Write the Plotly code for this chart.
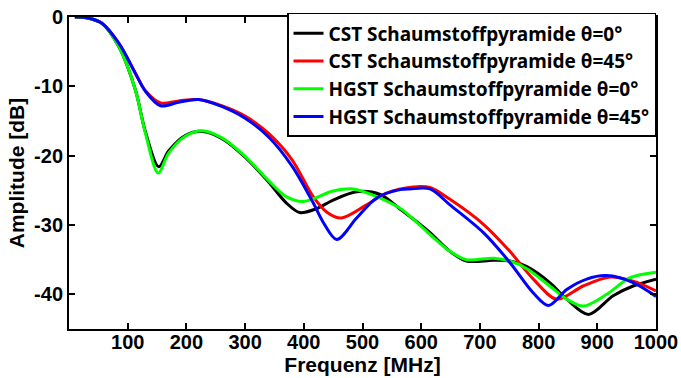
import plotly.graph_objects as go

# --- data ---
f_cst0 = [10, 30, 56, 85, 113, 130, 153, 170, 198, 227, 260, 300, 340, 370, 393, 420, 450, 490, 530, 564, 615, 649, 677, 723, 751, 780, 819, 848, 885, 927, 961, 1000]
db_cst0 = [0, -0.1, -0.9, -4.3, -10.5, -16.5, -21.6, -19.3, -17.1, -16.5, -17.5, -20.2, -23.8, -26.8, -28.2, -27.7, -26.4, -25.2, -25.6, -27.7, -31.1, -33.8, -35.2, -35.1, -35.2, -36.0, -38.3, -40.7, -42.9, -40.2, -38.8, -37.8]

f_cst45 = [10, 30, 56, 85, 113, 130, 156, 187, 221, 260, 300, 340, 380, 416, 440, 464, 507, 541, 586, 615, 649, 706, 751, 791, 831, 876, 922, 961, 1000]
db_cst45 = [0, -0.1, -0.9, -3.8, -8.1, -10.6, -12.4, -12.1, -11.9, -12.8, -14.3, -16.8, -20.6, -25.9, -28.2, -29.0, -27.1, -25.4, -24.5, -24.6, -26.3, -29.9, -33.8, -37.8, -40.7, -38.8, -37.5, -38.1, -39.5]

f_hgst0 = [10, 30, 56, 85, 113, 130, 152, 170, 198, 227, 260, 300, 340, 370, 399, 450, 484, 524, 564, 609, 649, 677, 723, 751, 780, 819, 848, 876, 916, 956, 1000]
db_hgst0 = [0, -0.1, -0.9, -4.3, -10.5, -16.7, -22.5, -19.6, -17.2, -16.4, -17.4, -20.1, -23.6, -25.9, -26.6, -25.1, -24.8, -25.9, -27.6, -30.9, -33.8, -35.0, -34.8, -35.2, -36.3, -38.8, -40.7, -41.7, -40.0, -37.6, -36.8]

f_hgst45 = [10, 30, 56, 85, 113, 130, 156, 187, 221, 260, 300, 340, 380, 416, 433, 456, 490, 524, 564, 581, 615, 649, 706, 751, 791, 817, 848, 882, 916, 961, 1000]
db_hgst45 = [0, -0.1, -0.9, -3.8, -8.1, -10.7, -12.8, -12.3, -11.9, -12.9, -14.6, -17.3, -21.5, -26.8, -29.6, -32.1, -29.0, -26.1, -24.9, -24.8, -24.8, -27.1, -31.1, -35.4, -39.8, -41.6, -39.3, -37.8, -37.3, -38.3, -40.3]

series = [
    ("CST Schaumstoffpyramide θ=0°", f_cst0, db_cst0, "#000000"),
    ("CST Schaumstoffpyramide θ=45°", f_cst45, db_cst45, "#ff0000"),
    ("HGST Schaumstoffpyramide θ=0°", f_hgst0, db_hgst0, "#00ff00"),
    ("HGST Schaumstoffpyramide θ=45°", f_hgst45, db_hgst45, "#0000ff"),
]

x_ticks = [100, 200, 300, 400, 500, 600, 700, 800, 900, 1000]
y_ticks = [0, -10, -20, -30, -40]

FONT = "Liberation Sans, Arial, sans-serif"
LEG_FONT = "Noto Sans, Liberation Sans, Arial, sans-serif"

fig = go.Figure()
for name, fx, fy, col in series:
    fig.add_trace(go.Scatter(x=fx, y=fy, name=name, mode="lines",
                             line=dict(color=col, width=3, shape="spline", smoothing=0.9)))

axis_common = dict(showline=True, linecolor="black", linewidth=2, mirror="ticks",
                   ticks="inside", ticklen=6, tickwidth=1.5, tickcolor="black",
                   showgrid=False, zeroline=False, automargin=False,
                   tickfont=dict(family=FONT, size=20, color="black", weight="bold"))

fig.update_layout(
    width=681, height=378,
    margin=dict(l=69, r=25, t=17, b=49),
    paper_bgcolor="white", plot_bgcolor="white",
    font=dict(family=FONT, color="black"),
    xaxis=dict(range=[0, 1000], tickvals=x_ticks, ticktext=[str(v) for v in x_ticks],
               ticklabelstandoff=-6,
               title=dict(text="Frequenz [MHz]", standoff=2,
                          font=dict(family=FONT, size=21, color="black", weight="bold")),
               **axis_common),
    yaxis=dict(range=[-45, 0], tickvals=y_ticks, ticktext=[str(v) for v in y_ticks],
               title=dict(text="Amplitude [dB]", standoff=4,
                          font=dict(family=FONT, size=21, color="black", weight="bold")),
               **axis_common),
    legend=dict(x=1, y=1.013, xanchor="right", yanchor="top",
                bgcolor="white", bordercolor="black", borderwidth=1.5,
                font=dict(family=LEG_FONT, size=19, color="black", weight="bold"),
                tracegroupgap=0, itemwidth=30),
    showlegend=True,
)

fig.write_html("out.html")
